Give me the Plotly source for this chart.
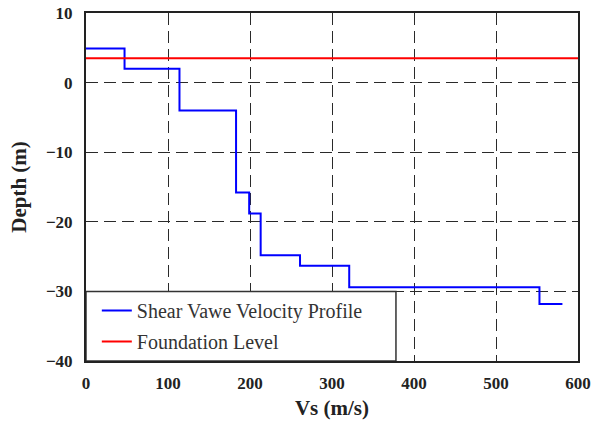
import plotly.graph_objects as go

# Step profile vertices (hv step): velocity (m/s) and depth (m)
vs_points = [0, 47, 114, 183, 199, 213, 261, 321, 553, 581]
depth_points = [4.9, 2.0, -4.0, -15.8, -18.8, -24.8, -26.3, -29.4, -31.8, -31.8]

foundation_x = [0, 600]
foundation_y = [3.5, 3.5]

x_ticks = [0, 100, 200, 300, 400, 500, 600]
y_ticks = [10, 0, -10, -20, -30, -40]

serif = "Liberation Serif, DejaVu Serif, serif"

fig = go.Figure()
fig.add_trace(go.Scatter(
    x=vs_points, y=depth_points, mode="lines", line_shape="hv",
    line=dict(color="#0000ff", width=2),
    name="Shear Vawe Velocity Profile", legendgroup="a",
))
fig.add_trace(go.Scatter(
    x=foundation_x, y=foundation_y, mode="lines",
    line=dict(color="#ff0000", width=2),
    name="Foundation Level", legendgroup="b",
))

fig.add_shape(type="rect", xref="x", yref="y", x0=0, x1=378, y0=-40, y1=-30,
              line=dict(color="#333333", width=1.5), fillcolor="white", layer="above")

axis_common = dict(
    showgrid=True, gridcolor="#2a2a2a", gridwidth=1.4, griddash="12px,6px",
    showline=True, linecolor="#222222", linewidth=2, mirror=True,
    zeroline=False, ticks="", automargin=False,
    tickfont=dict(family=serif, size=17, color="#222222", weight="bold"),
)

fig.update_xaxes(range=[0, 600], tickvals=x_ticks, ticklabelstandoff=6, **axis_common,
                 title=dict(text="Vs (m/s)", font=dict(family=serif, size=21, color="#222222", weight="bold"), standoff=8))
fig.update_yaxes(range=[-40, 10], tickvals=y_ticks, ticklabelstandoff=8, **axis_common,
                 title=dict(text="Depth (m)", font=dict(family=serif, size=21, color="#222222", weight="bold"), standoff=14))

fig.update_layout(
    width=600, height=421,
    margin=dict(l=86, r=22, t=13, b=60),
    plot_bgcolor="white", paper_bgcolor="white",
    showlegend=True,
    legend=dict(x=0.022, y=0.0, xanchor="left", yanchor="bottom",
                bgcolor="rgba(0,0,0,0)", borderwidth=0,
                font=dict(family=serif, size=20, color="#333333"),
                tracegroupgap=2),
)

fig.write_html("out.html")
